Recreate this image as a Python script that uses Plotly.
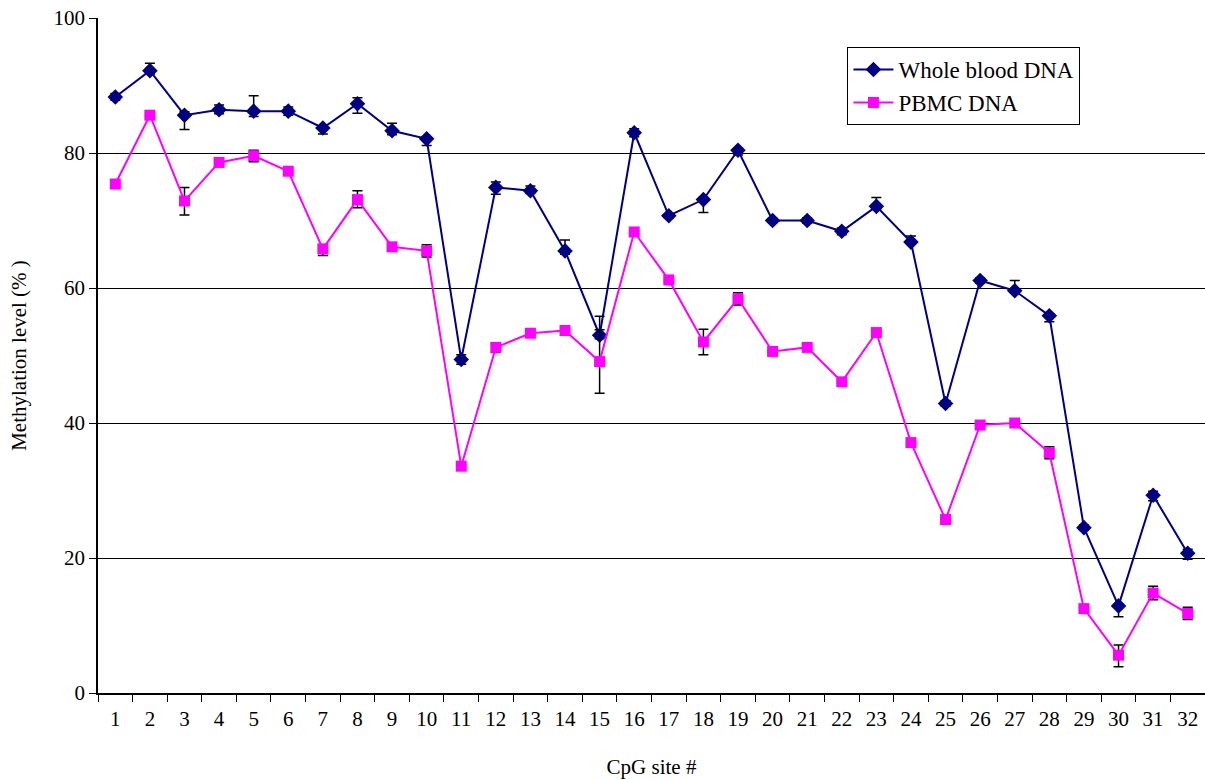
import plotly.graph_objects as go

# CpG site labels along the x axis
sites = ["1", "2", "3", "4", "5", "6", "7", "8", "9", "10", "11", "12", "13", "14", "15", "16",
         "17", "18", "19", "20", "21", "22", "23", "24", "25", "26", "27", "28", "29", "30", "31", "32"]

# Whole blood DNA methylation (%) with upper / lower error
whole_blood = [88.3, 92.2, 85.6, 86.4, 86.2, 86.2, 83.7, 87.3, 83.3, 82.1, 49.4, 74.9, 74.4, 65.5, 53.0, 83.0,
               70.7, 73.1, 80.4, 70.0, 70.0, 68.4, 72.1, 66.8, 42.9, 61.1, 59.6, 55.9, 24.5, 12.9, 29.3, 20.7]
whole_err_plus = [0.5, 1.1, 0.5, 0.7, 2.3, 0.6, 0.3, 0.9, 1.1, 0.3, 0.7, 0.8, 0.7, 1.6, 2.8, 0.6,
                  0.3, 0.3, 0.3, 0.3, 0.4, 0.5, 1.3, 0.9, 0.4, 0.4, 1.5, 0.3, 0.4, 0.3, 0.6, 0.6]
whole_err_minus = [0.5, 0.5, 2.1, 0.6, 0.8, 0.6, 0.9, 1.4, 0.6, 1.0, 0.7, 1.0, 0.4, 0.5, 0.5, 0.6,
                   0.3, 1.9, 0.7, 0.3, 0.4, 0.5, 0.4, 0.3, 0.4, 0.4, 0.3, 0.9, 0.4, 1.6, 0.8, 0.9]

# PBMC DNA methylation (%) with upper / lower error
pbmc = [75.4, 85.6, 72.9, 78.6, 79.6, 77.3, 65.8, 73.1, 66.1, 65.5, 33.6, 51.2, 53.3, 53.7, 49.1, 68.3,
        61.2, 52.0, 58.4, 50.6, 51.2, 46.1, 53.4, 37.1, 25.7, 39.7, 40.0, 35.6, 12.5, 5.6, 14.8, 11.8]
pbmc_err_plus = [0.2, 0.2, 2.0, 0.2, 0.8, 0.2, 0.5, 1.3, 0.2, 0.9, 0.2, 0.7, 0.2, 0.2, 4.7, 0.2,
                 0.2, 1.9, 0.9, 0.2, 0.2, 0.2, 0.2, 0.2, 0.2, 0.2, 0.2, 0.9, 0.2, 1.5, 1.0, 0.9]
pbmc_err_minus = [0.2, 0.2, 2.1, 0.2, 0.9, 0.2, 1.0, 1.2, 0.2, 0.9, 0.2, 0.7, 0.2, 0.2, 4.7, 0.2,
                  0.2, 1.9, 0.9, 0.2, 0.2, 0.2, 0.2, 0.2, 0.2, 0.2, 0.2, 0.9, 0.2, 1.7, 1.0, 0.9]

serif = "Liberation Serif, Times New Roman, serif"

fig = go.Figure()

fig.add_trace(go.Scatter(
    x=sites, y=whole_blood, name="Whole blood DNA",
    mode="lines+markers",
    line=dict(color="#000080", width=2),
    marker=dict(symbol="diamond", size=12, color="#000080"),
    error_y=dict(type="data", symmetric=False, array=whole_err_plus, arrayminus=whole_err_minus,
                 color="black", thickness=1.5, width=5),
))

fig.add_trace(go.Scatter(
    x=sites, y=pbmc, name="PBMC DNA",
    mode="lines+markers",
    line=dict(color="#FF00FF", width=2),
    marker=dict(symbol="square", size=11, color="#FF00FF"),
    error_y=dict(type="data", symmetric=False, array=pbmc_err_plus, arrayminus=pbmc_err_minus,
                 color="black", thickness=1.5, width=5),
))

fig.update_layout(
    width=1205, height=780,
    margin=dict(l=98, r=0, t=18, b=87),
    paper_bgcolor="white", plot_bgcolor="white",
    font=dict(family=serif, size=21, color="black"),
    showlegend=True,
    legend=dict(
        x=0.677, y=0.957, xanchor="left", yanchor="top",
        bgcolor="white", bordercolor="black", borderwidth=1,
        font=dict(family=serif, size=23, color="black"),
        itemwidth=40, tracegroupgap=0,
    ),
    xaxis=dict(
        type="category", range=[-0.5, 31.5],
        tickson="boundaries", ticks="outside", ticklen=7, tickcolor="black", tickwidth=1,
        showline=True, linecolor="black", linewidth=1.5,
        showgrid=False, zeroline=False,
        tickfont=dict(family=serif, size=21),
        ticklabelstandoff=6,
        title=dict(text="CpG site #", font=dict(family=serif, size=21), standoff=29),
    ),
    yaxis=dict(
        range=[0, 100], dtick=20, tick0=0,
        ticks="outside", ticklen=7, tickcolor="black", tickwidth=1,
        showline=True, linecolor="black", linewidth=1.5,
        showgrid=True, gridcolor="black", gridwidth=1,
        zeroline=False,
        tickfont=dict(family=serif, size=21),
        title=dict(text="Methylation level (% )", font=dict(family=serif, size=21), standoff=21),
    ),
)

fig.write_html("out.html")
